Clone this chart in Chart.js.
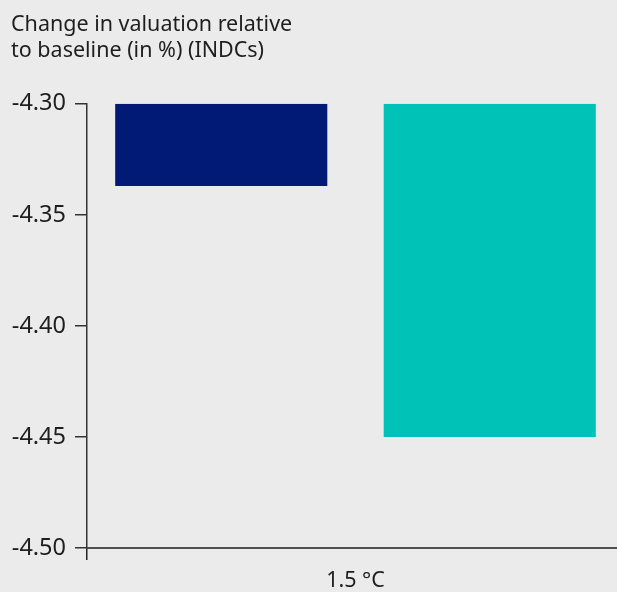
<!DOCTYPE html>
<html>
<head>
<meta charset="utf-8">
<script src="https://cdn.jsdelivr.net/npm/chart.js@4"></script>
<style>
  html, body { margin: 0; padding: 0; background: #ebebeb; overflow: hidden; }
  #wrap { width: 617px; height: 592px; overflow: hidden; }
</style>
</head>
<body>
<!-- canvas a bit wider than the window: the plot area runs past the right edge -->
<div id="wrap"><canvas id="valuationChart" width="624" height="592"></canvas></div>
<script>
// Data
const categories = ["1.5 °C"];
const seriesNames = ["Series A", "Series B"];
const baseline = -4.30;
const seriesA = [-4.337];
const seriesB = [-4.45];
const yTicks = [-4.50, -4.45, -4.40, -4.35, -4.30];

const textColor = "#1e1e1e";
const fontName = "'Noto Sans', sans-serif";

const ctx = document.getElementById("valuationChart").getContext("2d");
new Chart(ctx, {
    type: "bar",
    data: {
        labels: categories,
        datasets: [
            {
                label: seriesNames[0],
                data: seriesA.map(v => [baseline, v]),
                backgroundColor: "#011a76",
                barPercentage: 0.79,
                categoryPercentage: 1.0
            },
            {
                label: seriesNames[1],
                data: seriesB.map(v => [baseline, v]),
                backgroundColor: "#00c2b6",
                barPercentage: 0.79,
                categoryPercentage: 1.0
            }
        ]
    },
    options: {
        responsive: false,
        animation: false,
        layout: { padding: { left: 11, right: 0, top: 0, bottom: 0 } },
        plugins: {
            legend: { display: false },
            tooltip: { enabled: false },
            title: {
                display: true,
                text: ["Change in valuation relative", "to baseline (in %) (INDCs)"],
                align: "start",
                color: textColor,
                font: { family: fontName, size: 21.5, weight: "normal", lineHeight: 1.25 },
                padding: { top: 11, bottom: 39 }
            }
        },
        scales: {
            x: {
                grid: { drawOnChartArea: false, drawTicks: true, tickLength: 12, color: "#222", lineWidth: 1.5 },
                border: { display: true, color: "#505050", width: 2 },
                ticks: { color: textColor, font: { family: fontName, size: 21.5 }, padding: 8 },
                afterFit: function(scale) { scale.height = 44; }
            },
            y: {
                min: -4.50,
                max: -4.30,
                afterBuildTicks: function(scale) { scale.ticks = yTicks.map(v => ({ value: v })); },
                grid: { drawOnChartArea: false, drawTicks: true, tickLength: 12, color: "#333", lineWidth: 1.5 },
                border: { display: true, color: "#333", width: 1.5 },
                ticks: {
                    color: textColor,
                    font: { family: fontName, size: 23.5 },
                    padding: 9,
                    callback: function(value) { return value.toFixed(2); }
                },
                afterFit: function(scale) { scale.width = 76; }
            }
        }
    }
});
</script>
</body>
</html>
